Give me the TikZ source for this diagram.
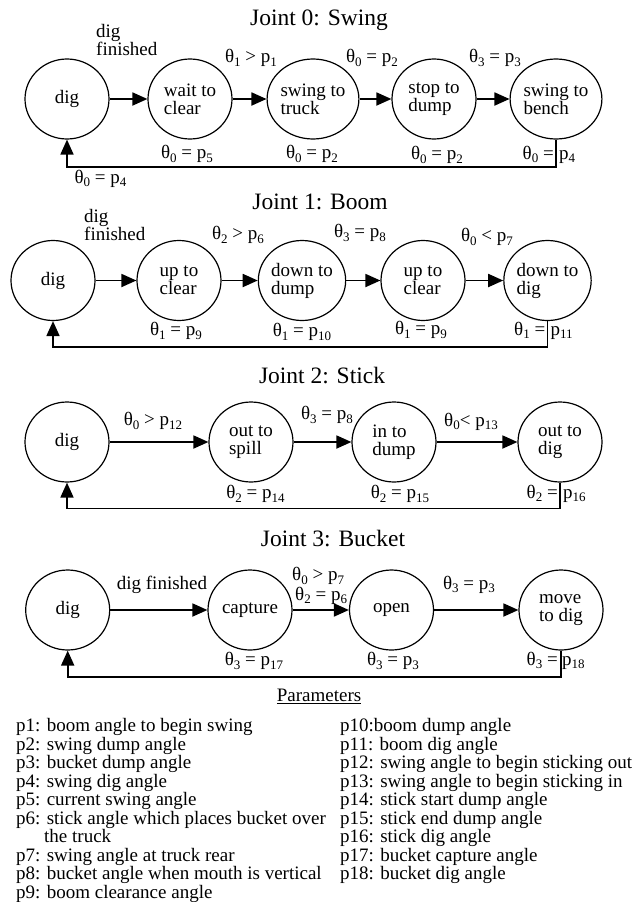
\documentclass[tikz,border=0pt]{standalone}
\usepackage{fontspec}
\setmainfont{Liberation Serif}
\usetikzlibrary{arrows.meta,shapes.geometric,calc}
\newcommand{\dn}[1]{\raisebox{-0.4ex}{\fontsize{13}{13}\selectfont #1}}
\newcommand{\nfont}{\fontsize{19}{18}\selectfont}
\newcommand{\tfont}{\fontsize{23.5}{26}\selectfont}
\tikzset{
  state/.style={ellipse,draw,line width=1.2pt,minimum width=84pt,minimum height=80pt,inner sep=0pt,align=left,font=\nfont},
  lbl/.style={inner sep=0pt,font=\nfont},
  ttl/.style={inner sep=0pt,font=\tfont},
  tr/.style={line width=1.8pt,-{Triangle[length=15pt,width=13pt]}},
}
\begin{document}
\begin{tikzpicture}[x=1pt,y=-1pt]
\useasboundingbox[fill=white] (0,0) rectangle (634,902);

% ---------------- Joint 0
\node[ttl] (t0) at (319,20) {Joint 0: Swing};
\node[state] (a1) at (67,99) {dig};
\node[state] (a2) at (190,99) {wait to\\clear};
\node[state] (a3) at (313,99) {swing to\\truck};
\node[state] (a4) at (434,99) {stop to\\dump};
\node[state] (a5) at (556,99) {swing to\\bench};
\node[lbl,align=left,anchor=west] (la1) at (96,40.5) {dig\\finished};
\node[lbl] (la2) at (251,58) {θ\dn{1} > p\dn{1}};
\node[lbl] (la3) at (372,58) {θ\dn{0} = p\dn{2}};
\node[lbl] (la4) at (495,58) {θ\dn{3} = p\dn{3}};
\node[lbl] (lb2) at (187,154) {θ\dn{0} = p\dn{5}};
\node[lbl] (lb3) at (312,154) {θ\dn{0} = p\dn{2}};
\node[lbl] (lb4) at (437,155) {θ\dn{0} = p\dn{2}};
\node[lbl,anchor=base east] (lb5a) at (554,159) {θ\dn{0} =};
\node[lbl,anchor=base west] (lb5b) at (559,159) {p\dn{4}};
\node[lbl] (lr0) at (100.5,178.5) {θ\dn{0} = p\dn{4}};
\draw[tr] (a1) -- (a2);
\draw[tr] (a2) -- (a3);
\draw[tr] (a3) -- (a4);
\draw[tr] (a4) -- (a5);
\coordinate (f0) at (0,167);
\draw[tr] (a5.south) -- (a5.south |- f0) -| (a1.south);

% ---------------- Joint 1
\node[ttl] (t1) at (320,201.6) {Joint 1: Boom};
\node[state] (b1) at (53,280.5) {dig};
\node[state] (b2) at (179,280.5) {up to\\clear};
\node[state] (b3) at (302,280.5) {down to\\dump};
\node[state] (b4) at (423,280.5) {up to\\clear};
\node[state] (b5) at (547.5,280.5) {down to\\dig};
\node[lbl,align=left,anchor=west] (lc1) at (84,225) {dig\\finished};
\node[lbl] (lc2) at (238,235) {θ\dn{2} > p\dn{6}};
\node[lbl] (lc3) at (360,233) {θ\dn{3} = p\dn{8}};
\node[lbl] (lc4) at (487,237) {θ\dn{0} < p\dn{7}};
\node[lbl] (ld2) at (176,331) {θ\dn{1} = p\dn{9}};
\node[lbl] (ld3) at (302,332) {θ\dn{1} = p\dn{10}};
\node[lbl] (ld4) at (421,330) {θ\dn{1} = p\dn{9}};
\node[lbl,anchor=base east] (ld5a) at (545.5,335) {θ\dn{1} =};
\node[lbl,anchor=base west] (ld5b) at (550.5,335) {p\dn{11}};
\draw[tr] (b1) -- (b2);
\draw[tr] (b2) -- (b3);
\draw[tr] (b3) -- (b4);
\draw[tr] (b4) -- (b5);
\coordinate (f1) at (0,347);
\draw[tr] (b5.south) -- (b5.south |- f1) -| (b1.south);

% ---------------- Joint 2
\node[ttl] (t2) at (322,376) {Joint 2: Stick};
\node[state] (c1) at (67,442) {dig};
\node[state] (c2) at (251,442) {out to\\spill};
\node[state] (c3) at (394,442) {in to\\dump};
\node[state] (c4) at (560,442) {out to\\dig};
\node[lbl] (le2) at (153,421) {θ\dn{0} > p\dn{12}};
\node[lbl] (le3) at (327,415) {θ\dn{3} = p\dn{8}};
\node[lbl] (le4) at (471,421.6) {θ\dn{0}< p\dn{13}};
\node[lbl] (lf2) at (255.5,494) {θ\dn{2} = p\dn{14}};
\node[lbl] (lf3) at (400,494) {θ\dn{2} = p\dn{15}};
\node[lbl,anchor=base east] (lf4a) at (558,498) {θ\dn{2} =};
\node[lbl,anchor=base west] (lf4b) at (563,498) {p\dn{16}};
\draw[tr] (c1) -- (c2);
\draw[tr] (c2) -- (c3);
\draw[tr] (c3) -- (c4);
\coordinate (f2) at (0,508.5);
\draw[tr] (c4.south) -- (c4.south |- f2) -| (c1.south);

% ---------------- Joint 3
\node[ttl] (t3) at (333,538.6) {Joint 3: Bucket};
\node[state] (d1) at (67.7,610) {dig};
\node[state] (d2) at (250,610) {capture};
\node[state] (d3) at (391.5,610) {open};
\node[state] (d4) at (561,610) {move\\to dig};
\node[lbl] (lg2) at (162,584.6) {dig finished};
\node[lbl,align=left,anchor=west,font=\fontsize{19}{19.5}\selectfont] (lg3) at (292,586)
  {θ\dn{0} > p\dn{7}\\\hspace*{3pt}θ\dn{2} = p\dn{6}};
\node[lbl] (lg4) at (469,584.6) {θ\dn{3} = p\dn{3}};
\node[lbl] (lh2) at (254,661) {θ\dn{3} = p\dn{17}};
\node[lbl] (lh3) at (393,661) {θ\dn{3} = p\dn{3}};
\node[lbl,anchor=base east] (lh4a) at (558,665) {θ\dn{3} =};
\node[lbl,anchor=base west] (lh4b) at (562,665) {p\dn{18}};
\draw[tr] (d1) -- (d2);
\draw[tr] (d2) -- (d3);
\draw[tr] (d3) -- (d4);
\coordinate (f3) at (0,677);
\draw[tr] (d4.south) -- (d4.south |- f3) -| (d1.south);

% ---------------- Parameters
\node[lbl] (par) at (319,696) {\underline{Parameters}};
\foreach \t [count=\i from 0] in {
  {p1: boom angle to begin swing},
  {p2: swing dump angle},
  {p3: bucket dump angle},
  {p4: swing dig angle},
  {p5: current swing angle},
  {p6: stick angle which places bucket over},
  {\hspace*{28pt}the truck},
  {p7: swing angle at truck rear},
  {p8: bucket angle when mouth is vertical},
  {p9: boom clearance angle}}
  \node[lbl,anchor=base west] (pl\i) at (16,731.5+18.56*\i) {\t};
\foreach \t [count=\i from 0] in {
  {p10:boom dump angle},
  {p11: boom dig angle},
  {p12: swing angle to begin sticking out},
  {p13: swing angle to begin sticking in},
  {p14: stick start dump angle},
  {p15: stick end dump angle},
  {p16: stick dig angle},
  {p17: bucket capture angle},
  {p18: bucket dig angle}}
  \node[lbl,anchor=base west] (pr\i) at (340,731.5+18.56*\i) {\t};
\end{tikzpicture}
\end{document}
